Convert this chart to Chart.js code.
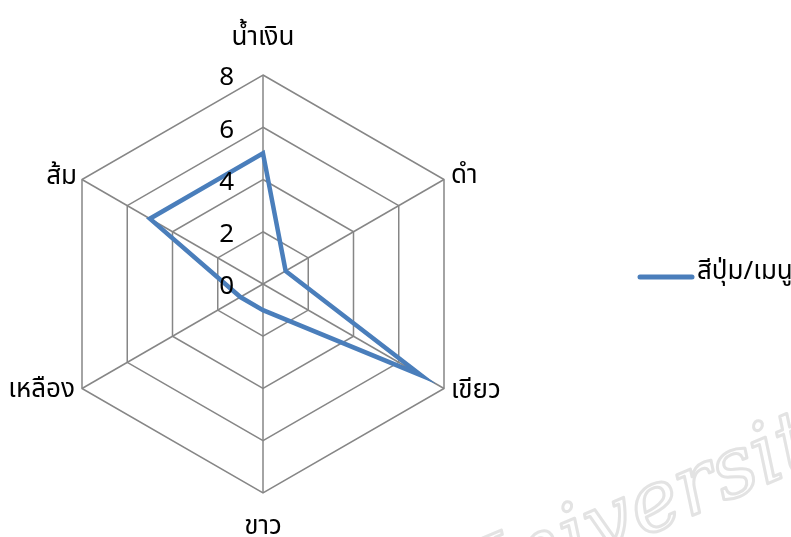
<!DOCTYPE html>
<html>
<head>
<meta charset="utf-8">
<script src="https://cdn.jsdelivr.net/npm/chart.js@4"></script>
<style>
  html, body { margin: 0; padding: 0; background: #fff; }
  #c { display: block; }
</style>
</head>
<body>
<canvas id="c" width="791" height="537"></canvas>
<script>
const categories = ["น้ำเงิน", "ดำ", "เขียว", "ขาว", "เหลือง", "ส้ม"];
const seriesName = "สีปุ่ม/เมนู";
const seriesValues = [5, 1, 7, 1, 1, 5];
const tickValues = [0, 2, 4, 6, 8];

const FONT = '26px "Noto Sans", "Noto Sans Thai", sans-serif';
const LINE_COLOR = '#4a7ebb';

const labelsPlugin = {
  id: 'customLabels',
  beforeDraw(chart) {
    // faint watermark
    const ctx = chart.ctx;
    ctx.save();
    ctx.translate(458, 615);
    ctx.rotate(-23 * Math.PI / 180);
    ctx.font = 'italic 84px "DejaVu Serif", serif';
    ctx.lineJoin = 'round';
    ctx.strokeStyle = '#e3e3e3';
    ctx.lineWidth = 3;
    ctx.strokeText('University', 0, 0);
    ctx.restore();
  },
  afterDraw(chart) {
    const s = chart.scales.r;
    const ctx = chart.ctx;
    ctx.save();
    ctx.font = FONT;
    ctx.fillStyle = '#000';
    // tick labels
    ctx.textAlign = 'right';
    ctx.textBaseline = 'middle';
    tickValues.forEach(v => {
      const d = s.getDistanceFromCenterForValue(v);
      ctx.fillText(String(v), s.xCenter - 29, s.yCenter - d + 3);
    });
    // point labels
    const offs = [
      { a: 'center', dx: 0, dy: -30 },
      { a: 'left', dx: 7, dy: 3 },
      { a: 'left', dx: 7, dy: 9 },
      { a: 'center', dx: 0, dy: 41 },
      { a: 'right', dx: -7, dy: 8 },
      { a: 'right', dx: -5, dy: 4 }
    ];
    ctx.textBaseline = 'alphabetic';
    categories.forEach((lab, i) => {
      const p = s.getPointPosition(i, s.drawingArea);
      const o = offs[i];
      ctx.textAlign = o.a;
      ctx.fillText(lab, p.x + o.dx, p.y + o.dy);
    });
    // legend
    ctx.strokeStyle = LINE_COLOR;
    ctx.lineWidth = 5;
    ctx.lineCap = 'round';
    ctx.beginPath();
    ctx.moveTo(640, 277);
    ctx.lineTo(692, 277);
    ctx.stroke();
    ctx.textAlign = 'left';
    ctx.fillText(chart.data.datasets[0].label, 697, 279);
    ctx.restore();
  }
};

new Chart(document.getElementById('c'), {
  type: 'radar',
  data: {
    labels: categories,
    datasets: [{
      label: seriesName,
      data: seriesValues,
      borderColor: LINE_COLOR,
      backgroundColor: 'rgba(0,0,0,0)',
      borderWidth: 4.5,
      pointRadius: 0,
      pointHoverRadius: 0,
      fill: false,
      tension: 0
    }]
  },
  options: {
    responsive: false,
    animation: false,
    layout: { padding: { top: 75, bottom: 44, left: 54, right: 319 } },
    plugins: { legend: { display: false }, tooltip: { enabled: false } },
    scales: {
      r: {
        min: 0,
        max: 8,
        ticks: { stepSize: 2, display: false },
        grid: { color: '#868686', lineWidth: 1.5 },
        angleLines: { color: '#868686', lineWidth: 1.5 },
        pointLabels: { display: false }
      }
    }
  },
  plugins: [labelsPlugin]
});
</script>
</body>
</html>
